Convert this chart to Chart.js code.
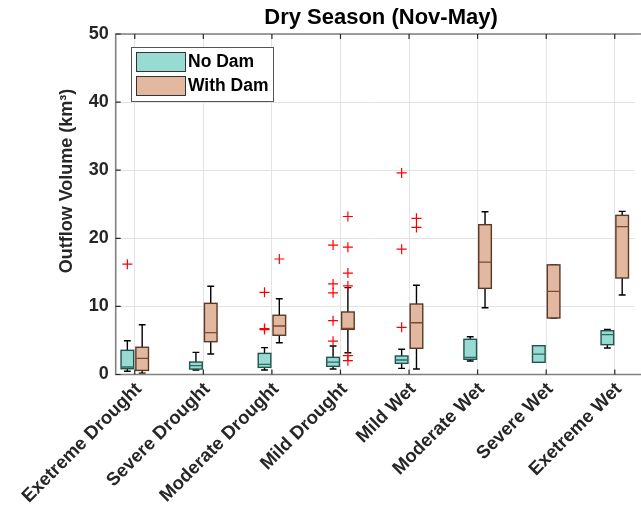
<!DOCTYPE html>
<html>
<head>
<meta charset="utf-8">
<script src="https://cdn.jsdelivr.net/npm/chart.js@4.4.1/dist/chart.umd.min.js"></script>
<style>
  html, body { margin: 0; padding: 0; background: #fff; }
</style>
</head>
<body>
<canvas id="box-chart" width="641" height="523"></canvas>
<script>
const categories = [
  "Exetreme Drought", "Severe Drought", "Moderate Drought", "Mild Drought",
  "Mild Wet", "Moderate Wet", "Severe Wet", "Exetreme Wet"
];
const yTicks = [0, 10, 20, 30, 40, 50];

// No Dam box stats (whisker low, Q1, median, Q3, whisker high)
const noDamMin = [0.47, 0.66, 0.66, 0.8, 0.9, 1.98, 1.79, 3.9];
const noDamQ1 = [0.85, 0.8, 1.05, 1.2, 1.64, 2.23, 1.79, 4.38];
const noDamMedian = [1.1, 1.3, 1.5, 1.83, 2.13, 2.52, 3.0, 5.85];
const noDamQ3 = [3.55, 1.83, 3.1, 2.52, 2.72, 5.17, 4.23, 6.43];
const noDamMax = [4.96, 3.25, 3.94, 4.18, 3.7, 5.55, 4.23, 6.63];
const noDamOutliers = [[16.2], [], [12.07, 6.75, 6.6], [19.0, 13.3, 12.0, 7.9, 4.9], [29.6, 18.4, 6.93], [], [], []];

// With Dam box stats
const withDamMin = [0.2, 3.0, 4.67, 3.2, 0.8, 9.8, 8.3, 11.67];
const withDamQ1 = [0.6, 4.82, 5.76, 6.63, 3.85, 12.65, 8.3, 14.17];
const withDamMedian = [2.37, 6.15, 7.12, 6.78, 7.6, 16.5, 12.2, 21.7];
const withDamQ3 = [4.0, 10.45, 8.7, 9.18, 10.35, 22.0, 16.1, 23.37];
const withDamMax = [7.3, 12.95, 11.13, 12.75, 13.1, 23.9, 16.1, 23.96];
const withDamOutliers = [[], [], [16.96], [23.2, 18.7, 14.9, 13.0, 2.77, 2.03], [22.94, 21.6], [], [], []];

const SHIFT = 0.108;   // offset of each group from the category centre
const BOX_HALF = 0.092;
const CAP_HALF = 0.05;
const FONT = "'Liberation Sans', Arial, sans-serif";

const groups = [
  { name: "No Dam", shift: -SHIFT, lo: noDamMin, q1: noDamQ1, med: noDamMedian, q3: noDamQ3, hi: noDamMax,
    fill: "#98dbd3", edge: "#24524c", median: "#2d6a62" },
  { name: "With Dam", shift: SHIFT, lo: withDamMin, q1: withDamQ1, med: withDamMedian, q3: withDamQ3, hi: withDamMax,
    fill: "#e2b8a0", edge: "#5a3827", median: "#7a4a33" },
];

const outlierPoints = (list, shift) => {
  const pts = [];
  list.forEach((vals, i) => vals.forEach((v) => pts.push({ x: i + 1 + shift, y: v })));
  return pts;
};

const boxPlugin = {
  id: "boxes",
  beforeDatasetsDraw(chart) {
    const { ctx, chartArea, scales: { x, y } } = chart;
    ctx.save();
    ctx.beginPath();
    ctx.rect(chartArea.left, chartArea.top, chartArea.right - chartArea.left, chartArea.bottom - chartArea.top);
    ctx.clip();
    groups.forEach((g) => {
      categories.forEach((c, i) => {
        const pos = i + 1 + g.shift;
        const cx = x.getPixelForValue(pos);
        const bl = x.getPixelForValue(pos - BOX_HALF);
        const br = x.getPixelForValue(pos + BOX_HALF);
        const cl = x.getPixelForValue(pos - CAP_HALF);
        const cr = x.getPixelForValue(pos + CAP_HALF);
        const yLo = y.getPixelForValue(g.lo[i]);
        const yQ1 = y.getPixelForValue(g.q1[i]);
        const yMed = y.getPixelForValue(g.med[i]);
        const yQ3 = y.getPixelForValue(g.q3[i]);
        const yHi = y.getPixelForValue(g.hi[i]);
        // whiskers
        ctx.strokeStyle = "#000";
        ctx.lineWidth = 1.4;
        ctx.beginPath();
        ctx.moveTo(cx, yLo); ctx.lineTo(cx, yQ1);
        ctx.moveTo(cx, yQ3); ctx.lineTo(cx, yHi);
        ctx.moveTo(cl, yLo); ctx.lineTo(cr, yLo);
        ctx.moveTo(cl, yHi); ctx.lineTo(cr, yHi);
        ctx.stroke();
        // box
        ctx.fillStyle = g.fill;
        ctx.fillRect(bl, yQ3, br - bl, yQ1 - yQ3);
        ctx.strokeStyle = g.edge;
        ctx.lineWidth = 1.4;
        ctx.strokeRect(bl, yQ3, br - bl, yQ1 - yQ3);
        // median
        ctx.strokeStyle = g.median;
        ctx.lineWidth = 1.3;
        ctx.beginPath();
        ctx.moveTo(bl, yMed); ctx.lineTo(br, yMed);
        ctx.stroke();
      });
    });
    ctx.restore();
  },
};

const framePlugin = {
  id: "frame",
  afterDraw(chart) {
    const { ctx, chartArea: a, scales: { x, y } } = chart;
    ctx.save();
    // axes box
    ctx.strokeStyle = "#808080";
    ctx.lineWidth = 1.6;
    ctx.beginPath();
    ctx.moveTo(641, a.top); ctx.lineTo(a.left, a.top); ctx.lineTo(a.left, a.bottom); ctx.lineTo(641, a.bottom);
    ctx.stroke();
    // inward ticks
    ctx.strokeStyle = "#262626";
    ctx.lineWidth = 1.2;
    ctx.beginPath();
    categories.forEach((c, i) => {
      const px = x.getPixelForValue(i + 1);
      ctx.moveTo(px, a.bottom); ctx.lineTo(px, a.bottom - 5);
      ctx.moveTo(px, a.top); ctx.lineTo(px, a.top + 5);
    });
    yTicks.forEach((v) => {
      const py = y.getPixelForValue(v);
      ctx.moveTo(a.left, py); ctx.lineTo(a.left + 5, py);
    });
    ctx.stroke();

    // title
    ctx.fillStyle = "#000";
    ctx.font = `bold 22px ${FONT}`;
    ctx.textAlign = "center";
    ctx.textBaseline = "middle";
    ctx.fillText("Dry Season (Nov-May)", 381, 18);

    // y axis label
    ctx.save();
    ctx.translate(67, 181);
    ctx.rotate(-Math.PI / 2);
    ctx.fillStyle = "#262626";
    ctx.font = `bold 18px ${FONT}`;
    ctx.fillText("Outflow Volume (km³)", 0, 0);
    ctx.restore();

    // legend
    const lx = 131, ly = 47, lw = 142, lh = 54;
    ctx.fillStyle = "#fff";
    ctx.fillRect(lx, ly, lw, lh);
    ctx.strokeStyle = "#555";
    ctx.lineWidth = 1;
    ctx.strokeRect(lx + 0.5, ly + 0.5, lw, lh);
    groups.forEach((g, k) => {
      const sy = ly + 5 + k * 24;
      ctx.fillStyle = g.fill;
      ctx.fillRect(136, sy, 49, 19);
      ctx.strokeStyle = "#333";
      ctx.strokeRect(136.5, sy + 0.5, 49, 19);
      ctx.fillStyle = "#000";
      ctx.font = `bold 17.5px ${FONT}`;
      ctx.textAlign = "left";
      ctx.textBaseline = "middle";
      ctx.fillText(g.name, 188, sy + 10.5);
    });
    ctx.restore();
  },
};

const chartEl = document.getElementById("box-chart");
const boxChart = new Chart(chartEl, {
  type: "scatter",
  data: {
    datasets: [
      {
        label: "No Dam outliers",
        data: outlierPoints(noDamOutliers, -SHIFT),
        pointStyle: "cross",
        radius: 5,
        borderColor: "#ff0000",
        borderWidth: 1.2,
      },
      {
        label: "With Dam outliers",
        data: outlierPoints(withDamOutliers, SHIFT),
        pointStyle: "cross",
        radius: 5,
        borderColor: "#ff0000",
        borderWidth: 1.2,
      },
    ],
  },
  options: {
    responsive: false,
    animation: false,
    devicePixelRatio: 1,
    layout: { padding: { top: 34, left: 0, right: -4, bottom: 0 } },
    plugins: {
      legend: { display: false },
      tooltip: { enabled: false },
      title: { display: false },
    },
    scales: {
      x: {
        type: "linear",
        min: 0.722,
        max: 8.292,
        afterBuildTicks: (s) => { s.ticks = categories.map((c, i) => ({ value: i + 1 })); },
        afterFit: (s) => { s.height = 148.5; s.paddingLeft = 0; s.paddingRight = 0; },
        grid: { color: "#e3e3e3", drawTicks: false },
        border: { display: false },
        ticks: {
          autoSkip: false,
          minRotation: 45,
          maxRotation: 45,
          padding: 4,
          labelOffset: 4,
          color: "#262626",
          font: { family: FONT, weight: "bold", size: 18.5 },
          callback: (v) => categories[Math.round(v) - 1],
        },
      },
      y: {
        min: 0,
        max: 50,
        afterBuildTicks: (s) => { s.ticks = yTicks.map((v) => ({ value: v })); },
        afterFit: (s) => { s.width = 115.7; s.paddingTop = 0; s.paddingBottom = 0; },
        grid: { color: "#e3e3e3", drawTicks: false },
        border: { display: false },
        ticks: {
          padding: 7,
          color: "#262626",
          font: { family: FONT, weight: "bold", size: 18 },
        },
      },
    },
  },
  plugins: [boxPlugin, framePlugin],
});
</script>
</body>
</html>
